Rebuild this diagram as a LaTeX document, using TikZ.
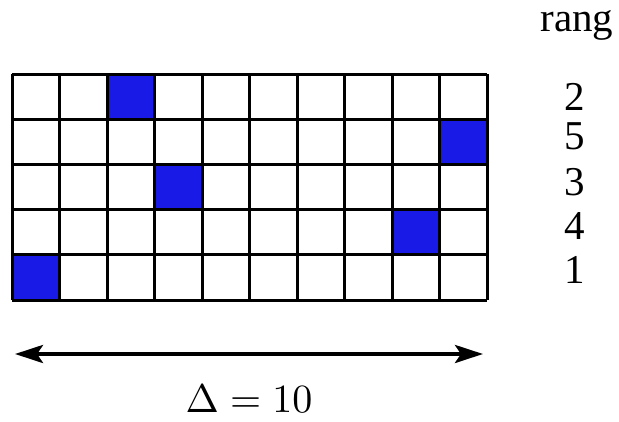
\documentclass[tikz,border=0pt]{standalone}
\usepackage{fontspec}
\newfontfamily\timesfont{Liberation Serif}
\usetikzlibrary{arrows.meta}
\definecolor{cellblue}{RGB}{26,26,230}
\tikzset{
  gridline/.style={line width=3pt, draw=black},
  bluecell/.style={fill=cellblue},
  ranklabel/.style={font=\timesfont\fontsize{41}{44}\selectfont, inner sep=0pt, anchor=center},
  spanarrow/.style={line width=4pt, {Stealth[length=28pt,width=18pt,inset=6pt]}-{Stealth[length=28pt,width=18pt,inset=6pt]}}
}
\begin{document}
\begin{tikzpicture}[x=1pt,y=-1pt]
\useasboundingbox (0,0) rectangle (619,421);
% blue cells (col, row)
\foreach \c/\r in {3/1,10/2,4/3,9/4,1/5}{
  \fill[bluecell] ({12+47.5*(\c-1)},{74+45.2*(\r-1)}) rectangle ({12+47.5*\c},{74+45.2*\r});
}
% grid
\foreach \i in {0,...,10}{
  \draw[gridline] ({12+47.5*\i},74) -- ({12+47.5*\i},300);
}
\foreach \j in {0,...,5}{
  \draw[gridline] (12,{74+45.2*\j}) -- (487,{74+45.2*\j});
}
% labels
\node[ranklabel, anchor=base, text height=0.5em] (rang) at (577,31) {rang};
\node[ranklabel] (r1) at (575,97) {2};
\node[ranklabel] (r2) at (575,136) {5};
\node[ranklabel] (r3) at (575,182) {3};
\node[ranklabel] (r4) at (575,226) {4};
\node[ranklabel] (r5) at (575,270) {1};
% arrow
\coordinate (al) at (15,354);
\coordinate (ar) at (483,354);
\draw[spanarrow] (al) -- (ar);
\node[scale=4, transform shape, inner sep=0pt] (delta) at (249,399) {$\Delta = 10$};
\end{tikzpicture}
\end{document}
